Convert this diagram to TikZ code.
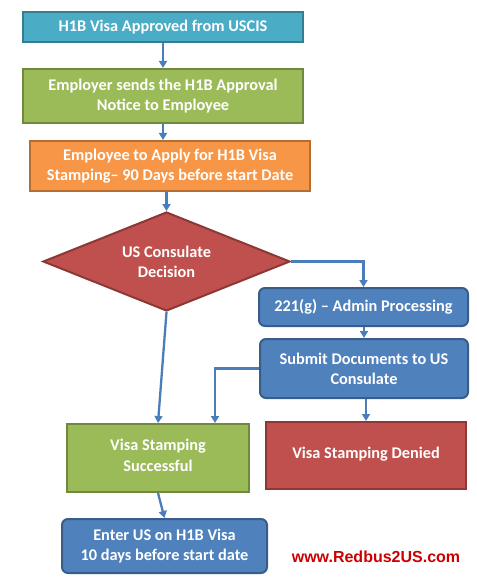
\documentclass[tikz,border=0pt]{standalone}
\usepackage{fontspec}
\setmainfont{Carlito}
\newfontfamily\webfont{Liberation Sans}
\usetikzlibrary{shapes.geometric,arrows.meta}
\definecolor{tealF}{HTML}{4BACC6}\definecolor{tealD}{HTML}{357D91}
\definecolor{grnF}{HTML}{9BBB59}\definecolor{grnD}{HTML}{71893F}
\definecolor{orgF}{HTML}{F79646}\definecolor{orgD}{HTML}{B66D32}
\definecolor{redF}{HTML}{C0504D}\definecolor{redD}{HTML}{8C3836}
\definecolor{bluF}{HTML}{4F81BD}\definecolor{bluD}{HTML}{385D8A}
\definecolor{arrC}{HTML}{4A7EBB}
\definecolor{webC}{HTML}{CC0000}
\begin{document}
\begin{tikzpicture}[x=1pt,y=-1pt,
  box/.style={rectangle,line width=2pt,inner sep=0pt,align=center,text=white,
    font=\fontsize{16.3}{20}\selectfont\bfseries},
  rbox/.style={box,rounded corners=6pt},
  conn/.style={draw=arrC,line width=2.3pt,-{Triangle[length=7pt,width=8pt]}}]
\path[use as bounding box] (0,0) rectangle (476,577);
\node[box,fill=tealF,draw=tealD,minimum width=280pt,minimum height=30pt] (b1) at (163,27) {H1B Visa Approved from USCIS};
\node[box,fill=grnF,draw=grnD,minimum width=280pt,minimum height=54pt] (b2) at (163,96) {Employer sends the H1B Approval\\Notice to Employee};
\node[box,fill=orgF,draw=orgD,minimum width=280pt,minimum height=50pt] (b3) at (170,166) {Employee to Apply for H1B Visa\\Stamping-- 90 Days before start Date};
\node[box,diamond,aspect=2.5,fill=redF,draw=redD,minimum width=247pt,minimum height=99pt] (dec) at (166.5,261.5) {US Consulate\\Decision};
\node[rbox,fill=bluF,draw=bluD,minimum width=209pt,minimum height=38pt] (adm) at (363.5,307) {221(g) -- Admin Processing};
\node[rbox,fill=bluF,draw=bluD,minimum width=208pt,minimum height=59pt] (sub) at (364,368.5) {Submit Documents to US\\Consulate};
\node[box,fill=grnF,draw=grnD,minimum width=182pt,minimum height=68pt] (succ) at (158,458) {\raisebox{5pt}{\shortstack{Visa Stamping\\[4pt]Successful}}};
\node[box,fill=redF,draw=redD,minimum width=200pt,minimum height=67pt] (den) at (366,455.5) {\raisebox{6pt}{Visa Stamping Denied}};
\node[rbox,fill=bluF,draw=bluD,minimum width=205pt,minimum height=54pt] (ent) at (164.5,546) {Enter US on H1B Visa\\10 days before start date};
\node[text=webC,font=\webfont\bfseries\fontsize{16}{18}\selectfont,inner sep=0pt] (web) at (376,557) {www.Redbus2US.com};
\draw[conn] (b1) -- (b2);
\draw[conn] (b2) -- (b2.south |- b3.north);
\draw[conn] (b3.south -| dec.north) -- (dec.north);
\draw[conn] (dec.east) -| (adm.north);
\draw[conn] (adm.south -| sub.north) -- (sub.north);
\draw[conn] (sub.south -| den.north) -- (den.north);
\draw[conn] (dec.south) -- (succ.north);
\draw[conn] (sub.west) -| ([xshift=57pt]succ.north);
\draw[conn] (succ.south) -- (ent.north);
\end{tikzpicture}
\end{document}
